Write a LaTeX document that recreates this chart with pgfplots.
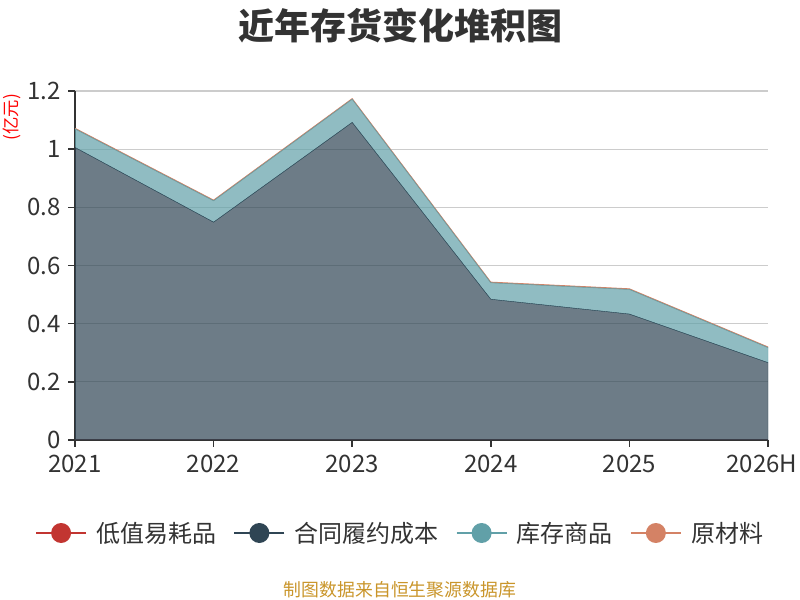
\documentclass[border=0pt]{standalone}
\usepackage{pgfplots}
\pgfplotsset{compat=1.18}
\usepackage{fontspec}
\setmainfont{Noto Sans CJK SC}
\definecolor{cRed}{HTML}{C23531}
\definecolor{cDark}{HTML}{2F4554}
\definecolor{cTeal}{HTML}{61A0A8}
\definecolor{cOrange}{HTML}{D48265}
\definecolor{cText}{HTML}{333333}
\definecolor{cGrid}{HTML}{CCCCCC}
\definecolor{cSrc}{HTML}{C9952A}
\begin{document}
\begin{tikzpicture}
\path[use as bounding box] (0,0) rectangle (600pt,450pt);
\node[font=\fontsize{27}{30}\selectfont\bfseries, text=cText] at (300pt,430.9pt) {近年存货变化堆积图};
\node[font=\fontsize{13}{15}\selectfont, text=red, rotate=90] at (9pt,362pt) {(亿元)};
\node[font=\fontsize{13.4}{15}\selectfont, text=cSrc] at (300pt,7.5pt) {制图数据来自恒生聚源数据库};
\begin{axis}[
  at={(56.25pt,120pt)}, anchor=south west,
  scale only axis, width=519.75pt, height=261.75pt,
  xmin=0, xmax=5, ymin=0, ymax=1.2,
  xtick={0,1,2,3,4,5},
  xticklabels={2021,2022,2023,2024,2025,\hspace*{-9pt}2026H},
  ytick={0,0.2,0.4,0.6,0.8,1,1.2},
  yticklabels={0,0.2,0.4,0.6,0.8,1,1.2},
  axis x line*=bottom, axis y line*=left,
  axis line style={cText, line width=1.1pt, -},
  tick style={cText, line width=1.1pt},
  tick align=outside, major tick length=5pt,
  ymajorgrids, grid style={cGrid, line width=0.8pt},
  ticklabel style={font=\fontsize{18}{20}\selectfont, text=cText},
  xticklabel style={yshift=-3pt},
  yticklabel style={xshift=-2pt},
  /pgf/number format/assume math mode=true,
  stack plots=y,
  legend columns=4,
  legend style={at={(0.4697,-0.2665)}, anchor=center, draw=none, fill=none,
    font=\fontsize{18}{20}\selectfont, text=cText,
    /tikz/every odd column/.append style={column sep=5pt},
    /tikz/every even column/.append style={column sep=11pt}},
  legend image code/.code={
    \draw[#1, line width=1.2pt, fill opacity=1, draw opacity=1] (0pt,0pt) -- (37.5pt,0pt);
    \path[#1, draw=none, fill opacity=1] (18.75pt,0pt) circle (7.5pt);
  },
]
\addplot[draw=cRed, fill=cRed, fill opacity=0.7, line width=0.5pt] coordinates {(0,0) (1,0) (2,0) (3,0) (4,0) (5,0)} \closedcycle;
\addlegendentry{低值易耗品}
\addplot[draw=cDark, fill=cDark, fill opacity=0.7, line width=0.3pt] coordinates {(0,1.006) (1,0.749) (2,1.092) (3,0.484) (4,0.433) (5,0.266)} \closedcycle;
\addlegendentry{合同履约成本}
\addplot[draw=cTeal, fill=cTeal, fill opacity=0.7, line width=0.3pt] coordinates {(0,0.064) (1,0.074) (2,0.080) (3,0.057) (4,0.085) (5,0.052)} \closedcycle;
\addlegendentry{库存商品}
\addplot[draw=cOrange, fill=cOrange, fill opacity=0.7, line width=0.6pt] coordinates {(0,0.002) (1,0.002) (2,0.002) (3,0.002) (4,0.002) (5,0.002)} \closedcycle;
\addlegendentry{原材料}
\end{axis}
\end{tikzpicture}
\end{document}
